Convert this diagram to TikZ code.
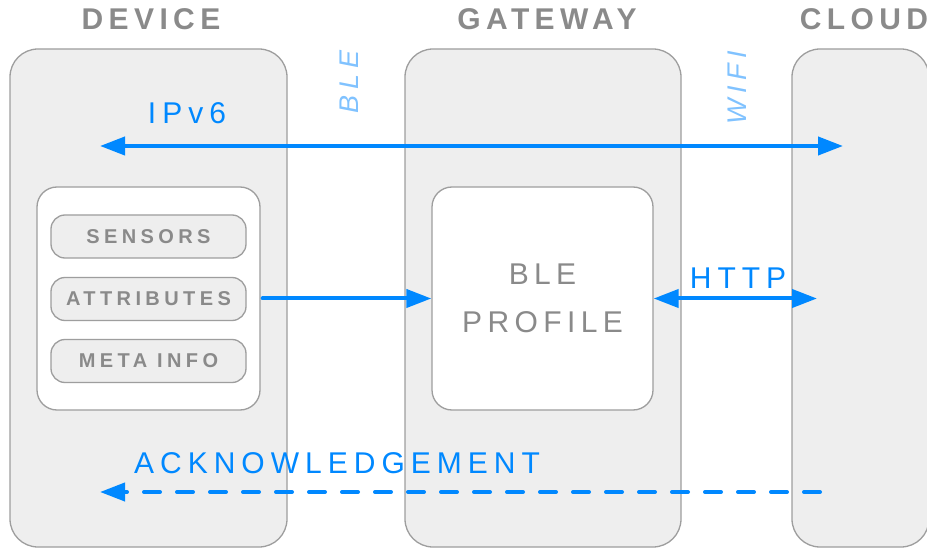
\documentclass[tikz,border=0pt]{standalone}
\usepackage{fontspec}
\setmainfont{Liberation Sans}
\usetikzlibrary{arrows.meta}
\definecolor{colfill}{HTML}{EEEEEE}
\definecolor{colline}{HTML}{9E9E9E}
\definecolor{txtgray}{HTML}{8A8A8A}
\definecolor{blueA}{HTML}{0088FF}
\definecolor{blueL}{HTML}{80C2FF}
\newcommand{\titlefnt}{\fontsize{30}{31}\selectfont\bfseries\addfontfeatures{LetterSpace=18}}
\newcommand{\bluefnt}{\fontsize{30}{31}\selectfont\addfontfeatures{LetterSpace=20}}
\newcommand{\linkfnt}{\fontsize{27}{28}\selectfont\itshape\addfontfeatures{LetterSpace=21}}
\newcommand{\pillfnt}{\fontsize{20}{21}\selectfont\bfseries\addfontfeatures{LetterSpace=22}}
\newcommand{\blefnt}{\fontsize{30}{48}\selectfont\addfontfeatures{LetterSpace=18}}
\begin{document}
\begin{tikzpicture}[x=1pt,y=-1pt,
  col/.style={draw=colline, line width=1.3pt, fill=colfill, rounded corners=28pt, inner sep=0pt},
  inbox/.style={draw=colline, line width=1.3pt, fill=white, rounded corners=20pt, inner sep=0pt},
  pill/.style={draw=colline, line width=1.3pt, fill=colfill, rounded corners=14pt,
    minimum width=195pt, minimum height=43pt, inner sep=0pt, text=txtgray, font=\pillfnt},
  title/.style={text=txtgray, font=\titlefnt, inner sep=0pt},
  bluelbl/.style={text=blueA, font=\bluefnt, inner sep=0pt},
  linklbl/.style={text=blueL, font=\linkfnt, inner sep=0pt, rotate=90},
  conn/.style={draw=blueA, line width=4pt},
  head/.tip={Triangle[length=25pt,width=18pt]}
]
\useasboundingbox (0,0) rectangle (927,548);
% columns
\node[col, minimum width=277pt, minimum height=498pt] (device) at (148.5,298) {};
\node[col, minimum width=276pt, minimum height=498pt] (gateway) at (543,298) {};
\node[col, minimum width=137pt, minimum height=498pt] (cloud) at (860.5,298) {};
% titles
\node[title] (tdev) at (151,19) {DEVICE};
\node[title] (tgw) at (547,19) {GATEWAY};
\node[title] (tcl) at (864,19) {CLOUD};
% link labels
\node[linklbl] (lble) at (349,82) {BLE};
\node[linklbl] (lwifi) at (737,88) {WIFI};
% inner boxes
\node[inbox, minimum width=223pt, minimum height=223pt] (devin) at (148.5,298.5) {};
\node[inbox, minimum width=221pt, minimum height=223pt, text=txtgray, font=\blefnt, align=center] (ble) at (542.5,298.5) {BLE\\PROFILE};
% pills
\node[pill] (sens) at (148.5,236.5) {SENSORS};
\node[pill] (attr) at (148.5,299) {ATTRIBUTES};
\node[pill] (meta) at (148.5,361) {META INFO};
% arrows
\coordinate (ipl) at (100,146);
\coordinate (ipr) at (843,146);
\draw[conn, head-head] (ipl) -- (ipr);
\node[bluelbl] (lip) at (187,113) {IPv6};
\draw[conn, line cap=round, -head] (devin.east) ++(2,0) -- (ble.west);
\coordinate (httpr) at (817,298.5);
\draw[conn, head-head] (ble.east) -- (httpr);
\node[bluelbl] (lhttp) at (738,278) {HTTP};
\coordinate (ackr) at (820,492);
\coordinate (ackl) at (100,492);
\draw[conn, line cap=round, dash pattern=on 16pt off 17pt, -head] (ackr) -- (ackl);
\node[bluelbl] (lack) at (337,463) {ACKNOWLEDGEMENT};
\end{tikzpicture}
\end{document}
